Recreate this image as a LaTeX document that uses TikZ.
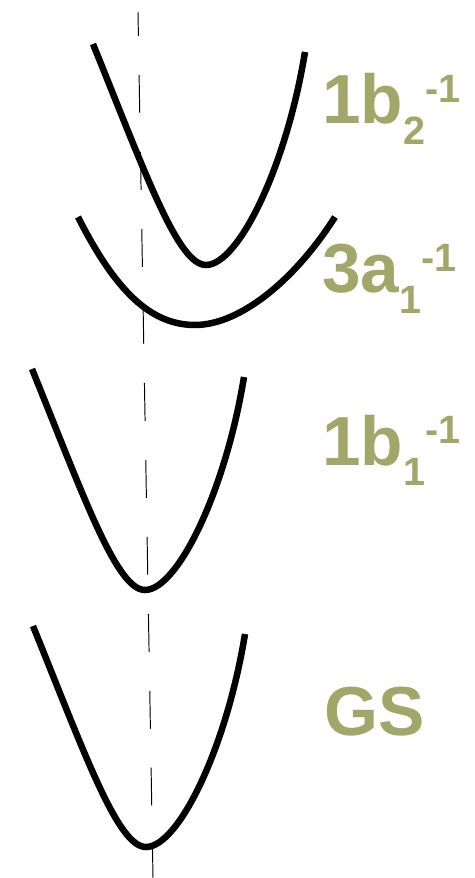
\documentclass[tikz,border=0pt]{standalone}
\usepackage{fontspec}
\setmainfont{Liberation Sans}
\usepackage{tikz}
\definecolor{lblgreen}{RGB}{161,167,104}
\newcommand{\sbsp}[2]{\raisebox{-0.42cm}{\fontsize{22.5}{24}\selectfont #1}\raisebox{0.44cm}{\fontsize{22.5}{24}\selectfont #2}}
\tikzset{
  pes/.style={line width=0.13cm,line cap=butt},
  axis/.style={line width=0.55pt,dash pattern=on 0.76cm off 0.78cm,dash phase=0.28cm},
  lbl/.style={anchor=base west,inner sep=0pt,text=lblgreen,font=\fontsize{39.5}{40}\selectfont\bfseries},
}

\begin{document}
\begin{tikzpicture}[x=0.02cm,y=-0.02cm]
\useasboundingbox (0,0) rectangle (474,878);
\coordinate (top) at (138,12);
\coordinate (bot) at (153,878);
\draw[axis] (top)--(bot);
% narrow wells: 1b2, 1b1, GS
\foreach \x/\y in {206/265,145/590,146/847}{%
 \draw[pes,shift={(\x,\y)}] (-113,-221) .. controls (-60,-90) and (-28,0) .. (0,0)
   .. controls (32,0) and (80,-97) .. (99,-213);}
% wide well: 3a1
\draw[pes,shift={(195,325)}] (-117,-108) .. controls (-80,-35) and (-45,0) .. (0,0)
   .. controls (45,0) and (100,-45) .. (140,-108);
\node[lbl] (b2) at (322,124) {1b\sbsp{2}{-1}};
\node[lbl] (a1) at (322,293) {3a\sbsp{1}{-1}};
\node[lbl] (b1) at (322,465) {1b\sbsp{1}{-1}};
\node[lbl] (gs) at (324,735) {GS};
\end{tikzpicture}
\end{document}
